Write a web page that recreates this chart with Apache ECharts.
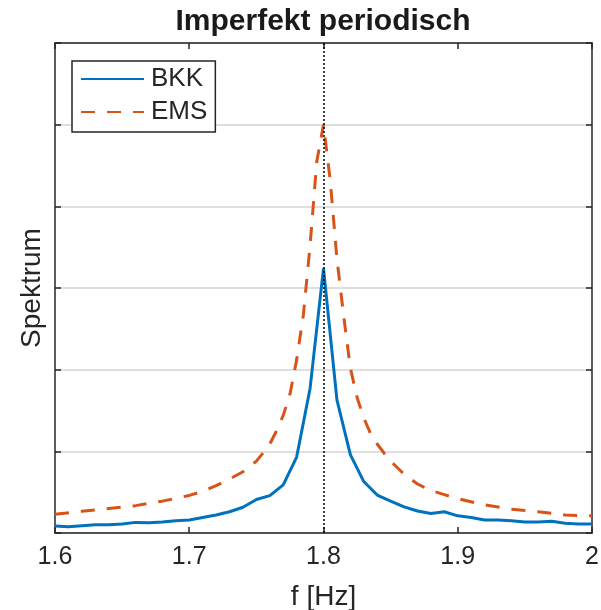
<!DOCTYPE html>
<html>
<head>
<meta charset="utf-8">
<script src="https://cdn.jsdelivr.net/npm/echarts@6/dist/echarts.min.js"></script>
<style>
  html, body { margin: 0; padding: 0; background: #fff; }
  #chart { width: 601px; height: 610px; }
</style>
</head>
<body>
<div id="chart"></div>
<script>
// Spectrum around the resonance frequency (f in Hz)
const bkkFreq = [1.60, 1.61, 1.62, 1.63, 1.64, 1.65, 1.66, 1.67, 1.68, 1.69,
                 1.70, 1.71, 1.72, 1.73, 1.74, 1.75, 1.76, 1.77, 1.78, 1.79,
                 1.80, 1.81, 1.82, 1.83, 1.84, 1.85, 1.86, 1.87, 1.88, 1.89,
                 1.90, 1.91, 1.92, 1.93, 1.94, 1.95, 1.96, 1.97, 1.98, 1.99, 2.00];
const bkkValue = [0.086, 0.077, 0.09, 0.10, 0.10, 0.11, 0.13, 0.126, 0.135, 0.15,
                  0.16, 0.19, 0.22, 0.26, 0.315, 0.41, 0.457, 0.59, 0.93, 1.77,
                  3.24, 1.63, 0.96, 0.63, 0.465, 0.39, 0.32, 0.27, 0.24, 0.26,
                  0.21, 0.19, 0.16, 0.16, 0.15, 0.135, 0.135, 0.143, 0.12, 0.11, 0.11];

const emsFreq = [1.60, 1.62, 1.64, 1.66, 1.68, 1.70, 1.71, 1.72, 1.73, 1.74,
                 1.75, 1.755, 1.76, 1.765, 1.77, 1.775, 1.78, 1.785, 1.79, 1.795,
                 1.80, 1.805, 1.81, 1.815, 1.82, 1.825, 1.83, 1.835, 1.84, 1.845,
                 1.85, 1.86, 1.87, 1.88, 1.89, 1.90, 1.92, 1.94, 1.96, 1.98, 2.00];
const emsValue = [0.23, 0.265, 0.30, 0.335, 0.39, 0.46, 0.51, 0.58, 0.66, 0.75,
                  0.88, 0.98, 1.09, 1.25, 1.44, 1.70, 2.12, 2.67, 3.52, 4.55,
                  5.00, 4.32, 3.36, 2.66, 2.02, 1.66, 1.41, 1.22, 1.09, 0.98,
                  0.88, 0.72, 0.60, 0.52, 0.47, 0.42, 0.345, 0.29, 0.26, 0.22, 0.21];

const peakFreq = 1.8;
const xTickLabels = ['1.6', '1.7', '1.8', '1.9', '2'];
const seriesNames = ['BKK', 'EMS'];

const FONT = '"Liberation Sans", Arial, Helvetica, sans-serif';
const INK = '#262626';
const DASH = [14, 12];

const pair = (xs, ys) => xs.map((x, i) => [x, ys[i]]);

const chart = echarts.init(document.getElementById('chart'), null, { renderer: 'canvas' });

const xBase = {
  type: 'value', min: 1.6, max: 2.0, interval: 0.1,
  axisLine: { show: true, onZero: false, lineStyle: { color: INK, width: 1.5 } },
  axisTick: { show: true, inside: true, length: 6, lineStyle: { color: INK, width: 1.5 } },
  splitLine: { show: false }
};
const yBase = {
  type: 'value', min: 0, max: 6, interval: 1,
  axisLine: { show: true, onZero: false, lineStyle: { color: INK, width: 1.5 } },
  axisTick: { show: true, inside: true, length: 6, lineStyle: { color: INK, width: 1.5 } },
  axisLabel: { show: false }
};

chart.setOption({
  animation: false,
  backgroundColor: '#fff',
  title: {
    text: 'Imperfekt periodisch',
    left: 318, top: 2, textAlign: 'center',
    textStyle: { fontFamily: FONT, fontWeight: 'bold', fontSize: 30, color: '#1a1a1a' }
  },
  grid: {
    left: 55, right: 9, top: 43, bottom: 77,
    containLabel: false, outerBoundsMode: 'none'
  },
  legend: {
    orient: 'vertical',
    left: 72, top: 61,
    padding: [5, 8, 7, 8],
    itemGap: 7,
    itemWidth: 63, itemHeight: 1,
    backgroundColor: '#fff',
    borderColor: INK, borderWidth: 1.5, borderRadius: 0,
    itemStyle: { opacity: 0 },
    textStyle: { fontFamily: FONT, fontSize: 26, lineHeight: 26, color: INK, padding: [0, 0, 0, 2] },
    data: seriesNames
  },
  xAxis: [
    Object.assign({}, xBase, {
      position: 'bottom',
      name: 'f [Hz]', nameLocation: 'middle', nameGap: 50,
      nameTextStyle: { fontFamily: FONT, fontSize: 28, color: INK },
      axisLabel: {
        show: true, margin: 12,
        fontFamily: FONT, fontSize: 25, color: INK,
        formatter: v => xTickLabels[Math.round((v - 1.6) * 10)] ?? ''
      }
    }),
    Object.assign({}, xBase, { position: 'top', axisLabel: { show: false } })
  ],
  yAxis: [
    Object.assign({}, yBase, {
      position: 'left',
      name: 'Spektrum', nameLocation: 'middle', nameGap: 9, nameRotate: 90,
      nameTextStyle: { fontFamily: FONT, fontSize: 28, color: INK },
      splitLine: { show: true, lineStyle: { color: '#dfdfdf', width: 2 } }
    }),
    Object.assign({}, yBase, { position: 'right', splitLine: { show: false } })
  ],
  series: [
    {
      name: seriesNames[0], type: 'line',
      data: pair(bkkFreq, bkkValue),
      showSymbol: false, symbol: 'none',
      lineStyle: { color: '#0072BD', width: 3 },
      itemStyle: { color: '#0072BD' },
      z: 3,
      markLine: {
        silent: true, symbol: 'none', label: { show: false },
        lineStyle: { color: '#000', type: [2, 2], width: 1.5 },
        data: [{ xAxis: peakFreq }]
      }
    },
    {
      name: seriesNames[1], type: 'line',
      data: pair(emsFreq, emsValue),
      showSymbol: false, symbol: 'none',
      lineStyle: { color: '#D95319', width: 3, type: DASH },
      itemStyle: { color: '#D95319' },
      z: 2
    }
  ]
});
</script>
</body>
</html>
